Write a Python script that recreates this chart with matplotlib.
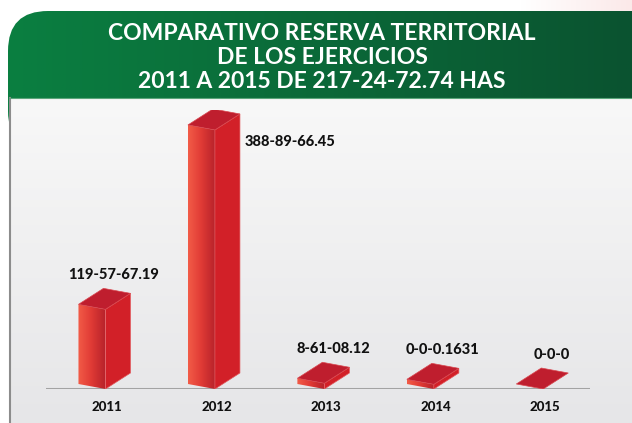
import numpy as np
import matplotlib
matplotlib.use("Agg")
import matplotlib.pyplot as plt
from matplotlib.patches import Polygon, FancyBboxPatch, Rectangle

# datos (hectáreas)
years = ["2011", "2012", "2013", "2014", "2015"]
values = [119.576719, 388.896645, 8.610812, 0.00001631, 0.0]
value_labels = ["119-57-67.19", "388-89-66.45", "8-61-08.12", "0-0-0.1631", "0-0-0"]
title_lines = ["COMPARATIVO RESERVA TERRITORIAL",
               "DE LOS EJERCICIOS",
               "2011 A 2015 DE 217-24-72.74 HAS"]

W, H = 632, 423
fig = plt.figure(figsize=(W / 100, H / 100), dpi=100)

# fondo en coordenadas de pixel
bg = fig.add_axes([0, 0, 1, 1])
bg.set_xlim(0, W)
bg.set_ylim(H, 0)
bg.axis("off")

# mancha rosada en la esquina superior derecha
pink = matplotlib.colors.LinearSegmentedColormap.from_list("p", ["#ffffff", "#fbe9e9"])
bg.imshow(np.linspace(0, 1, 64).reshape(1, -1), cmap=pink, extent=[520, W, 40, 0],
          aspect="auto", zorder=0)

# encabezado verde con degradado
head = FancyBboxPatch((8, 11), W + 60, 140, boxstyle="round,pad=0,rounding_size=40",
                      facecolor="none", edgecolor="none")
bg.add_patch(head)
grad = np.linspace(0, 1, 256).reshape(1, -1)
green = matplotlib.colors.LinearSegmentedColormap.from_list("g", ["#0a7f41", "#0a5330"])
im = bg.imshow(grad, cmap=green, extent=[8, W, 160, 11], aspect="auto", zorder=1)
im.set_clip_path(head)

# panel gris
panel = Rectangle((9, 98), W, H, facecolor="none", edgecolor="none")
bg.add_patch(panel)
vgrad = np.linspace(0, 1, 256).reshape(-1, 1)
gray = matplotlib.colors.LinearSegmentedColormap.from_list("gr", ["#f8f8f8", "#e6e6e8"])
im2 = bg.imshow(vgrad, cmap=gray, extent=[9, W, H, 98], aspect="auto", zorder=2)
im2.set_clip_path(panel)
bg.plot([9.5, 9.5], [98, H], color="#8c8c8c", lw=1.5, zorder=3)
bg.plot([9, W], [98.5, 98.5], color="#5aa57a", lw=0.8, zorder=3)
bg.set_xlim(0, W)
bg.set_ylim(H, 0)

for i, line in enumerate(title_lines):
    bg.text(322, 34 + 23.5 * i, line, color="white", fontsize=16.5, fontweight="bold",
            family=["Lato", "DejaVu Sans"], ha="center", va="center", zorder=4)

# ejes de la gráfica
ax_l, ax_r, ax_b, ax_t = 46, 590, 389, 110
ax = fig.add_axes([ax_l / W, (H - ax_b) / H, (ax_r - ax_l) / W, (ax_b - ax_t) / H])
ax.patch.set_alpha(0)
ax.axis("off")
xmin, xmax = -0.42, 4.55
ymax = max(values) * 1.077
ax.set_xlim(xmin, xmax)
ax.set_ylim(0, ymax)
px_x = (ax_r - ax_l) / (xmax - xmin)   # pixeles por unidad x
px_y = (ax_b - ax_t) / ymax            # pixeles por unidad y

bw = 27 / px_x
skew = 5 / px_y
dx = 25 / px_x
dy = 16 / px_y
min_h = 7.0

front_cmap = matplotlib.colors.LinearSegmentedColormap.from_list(
    "f", ["#f25c47", "#e03a35", "#b8232b"])
hgrad = np.linspace(0, 1, 128).reshape(1, -1)

ax.axhline(0, xmin=0, xmax=1, color="#a3a3a3", lw=2.2, zorder=1)

for i, (yr, v, lab) in enumerate(zip(years, values, value_labels)):
    h = max(v, min_h) if v > 0 else 0.0
    x0 = i - bw / 2
    x1 = i + bw / 2
    if h > 0:
        front = Polygon([(x0, skew), (x1, 0), (x1, h), (x0, h + skew)], closed=True,
                        facecolor="none", edgecolor="none", zorder=3)
        ax.add_patch(front)
        fim = ax.imshow(hgrad, cmap=front_cmap, extent=[x0, x1, 0, h + skew],
                        aspect="auto", zorder=3)
        fim.set_clip_path(front)
        side = Polygon([(x1, 0), (x1 + dx, dy), (x1 + dx, h + dy), (x1, h)], closed=True,
                       facecolor="#d22028", edgecolor="#e2575b", lw=0.5, zorder=3)
        ax.add_patch(side)
    top = Polygon([(x0, h + skew), (x1, h), (x1 + dx, h + dy), (x0 + dx, h + skew + dy)],
                  closed=True, facecolor="#bf1e2e", edgecolor="#d9474f", lw=0.5, zorder=4)
    ax.add_patch(top)

    # etiqueta de valor
    ly = h + skew + dy + 6 / px_y
    if ly + 16 / px_y > ymax:
        ax.text(x1 + dx + 5 / px_x, h - 12 / px_y, lab, fontsize=10.5, fontweight="black",
                family=["Lato", "DejaVu Sans"], ha="left", va="center", color="#111111")
    else:
        ax.text(i + 22 / px_x, ly, lab, fontsize=10.5, fontweight="black",
                family=["Lato", "DejaVu Sans"], ha="center", va="bottom", color="#111111")

    # año
    ax.text(i + 15 / px_x, -18 / px_y, yr, fontsize=9.5, fontweight="black",
            family=["Lato", "DejaVu Sans"], ha="center", va="center", color="#111111",
            clip_on=False)

ax.set_xlim(xmin, xmax)
ax.set_ylim(0, ymax)

fig.savefig("out.png", dpi=100)
